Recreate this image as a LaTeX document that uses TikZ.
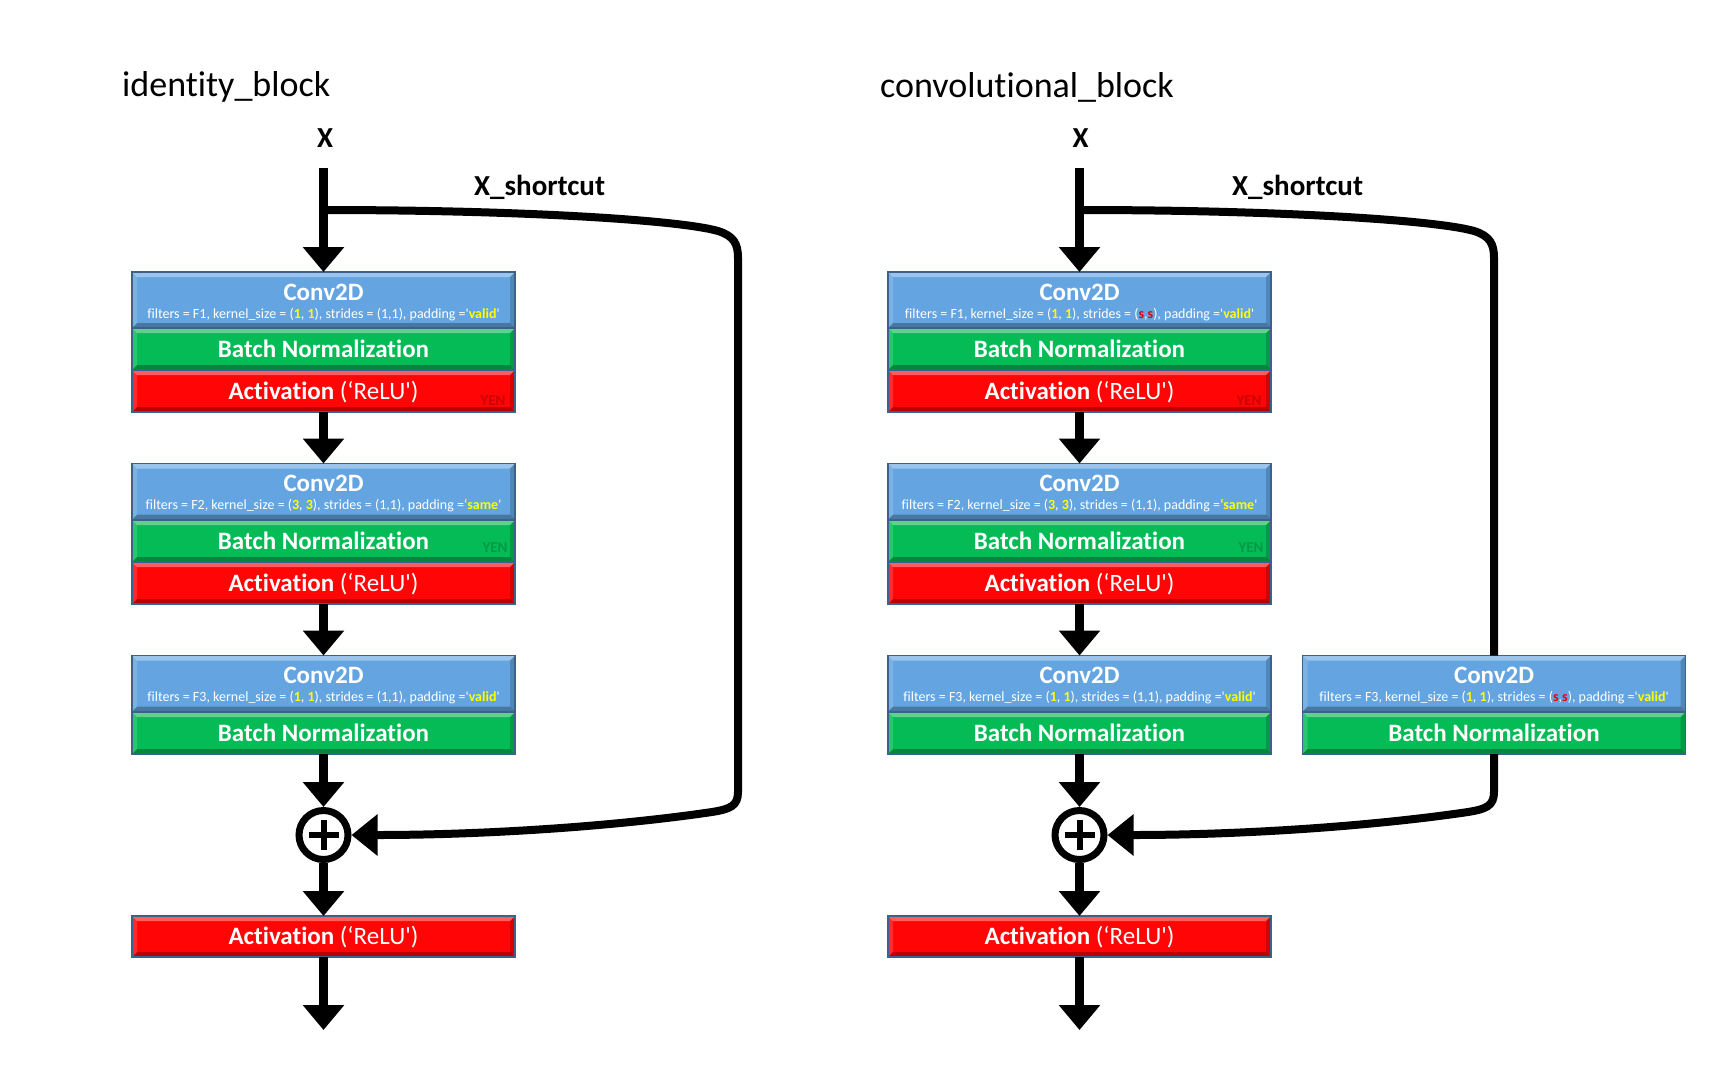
\documentclass[tikz,border=0pt]{standalone}
\usepackage{fontspec}
\setmainfont{Carlito}
\newfontfamily\calfont[Ligatures=NoCommon]{Carlito}
\usetikzlibrary{arrows.meta}
\definecolor{convblue}{RGB}{100,165,225}
\definecolor{bngreen}{RGB}{5,187,85}
\definecolor{actred}{RGB}{255,5,5}
\definecolor{edgeblue}{RGB}{62,96,140}
\definecolor{pyellow}{RGB}{255,255,0}
\definecolor{sred}{RGB}{230,0,0}
\newcommand\yv[1]{\textcolor{pyellow}{\bfseries #1}}
\newcommand\rs{\textcolor{sred}{\bfseries s}}
\tikzset{
  bevel/.style={path picture={
    \fill[white,opacity=.35] (path picture bounding box.north west) -- (path picture bounding box.north east)
      -- ([shift={(-5pt,-5pt)}]path picture bounding box.north east) -- ([shift={(5pt,-5pt)}]path picture bounding box.north west) -- cycle;
    \fill[black,opacity=.28] (path picture bounding box.south west) -- (path picture bounding box.south east)
      -- ([shift={(-5pt,5pt)}]path picture bounding box.south east) -- ([shift={(5pt,5pt)}]path picture bounding box.south west) -- cycle;
    \fill[white,opacity=.15] (path picture bounding box.north west) -- ([shift={(5pt,-5pt)}]path picture bounding box.north west)
      -- ([shift={(5pt,5pt)}]path picture bounding box.south west) -- (path picture bounding box.south west) -- cycle;
    \fill[black,opacity=.18] (path picture bounding box.north east) -- ([shift={(-5pt,-5pt)}]path picture bounding box.north east)
      -- ([shift={(-5pt,5pt)}]path picture bounding box.south east) -- (path picture bounding box.south east) -- cycle;
  }},
  layer/.style={draw=edgeblue, line width=1.5pt, minimum width=383pt, inner sep=0pt, outer sep=0pt, bevel,
    text=white, font=\calfont\fontsize{25}{25}\selectfont, text height=16pt, text depth=0pt},
  convbox/.style={layer, fill=convblue, minimum height=56pt},
  bnbox/.style={layer, fill=bngreen, minimum height=42pt},
  actbox/.style={layer, fill=actred, minimum height=42pt},
  ctitle/.style={anchor=base, text=white, inner sep=0pt, font=\calfont\bfseries\fontsize{25}{25}\selectfont},
  cparam/.style={anchor=base, text=white, inner sep=0pt, font=\calfont\fontsize{14}{14}\selectfont},
  wmred/.style={inner sep=0pt, text=actred!80!black, font=\calfont\bfseries\fontsize{15}{15}\selectfont},
  wmgreen/.style={inner sep=0pt, text=bngreen!82!black, font=\calfont\bfseries\fontsize{15}{15}\selectfont},
  btitle/.style={anchor=base west, inner sep=0pt, font=\calfont\fontsize{36}{36}\selectfont},
  xlabel/.style={anchor=base, inner sep=0pt, font=\calfont\bfseries\fontsize{29}{29}\selectfont},
  flow/.style={line width=8.5pt, -{Triangle[width=40pt,length=25pt]}},
  sline/.style={line width=8pt},
  sarrow/.style={line width=8pt, -{Triangle[width=40pt,length=26pt]}},
  plusnode/.style={circle, draw=black, fill=white, line width=7pt, minimum size=49pt, inner sep=0pt, outer sep=3.5pt},
  plusbar/.style={line width=6pt},
}
\begin{document}
\begin{tikzpicture}[x=1pt,y=-1pt]
\useasboundingbox[fill=white] (0,0) rectangle (1728,1080);

% ---------------- identity block ----------------
\node[btitle] (t1) at (122,96) {identity\_block};
\node[xlabel] (x1) at (325,147) {X};
\node[xlabel,anchor=base west] (s1) at (474,195) {X\_shortcut};
\coordinate (in1) at (323.5,168);
\coordinate (j1) at (323.5,210);

\node[convbox] (lc1) at (323.5,300) {};
\node[ctitle] (lc1t) at (323.5,300) {Conv2D};
\node[cparam] (lc1p) at (323.5,318) {filters = F1, kernel\_size = (\yv{1}, \yv{1}), strides = (1,1), padding ='\yv{valid}'};
\node[bnbox] (lb1) at (323.5,349) {\bfseries Batch Normalization};
\node[actbox] (la1) at (323.5,391) {\textbf{Activation} (‘ReLU')};
\node[wmred] (lw1) at (493,401) {YEN};

\node[convbox] (lc2) at (323.5,491.5) {};
\node[ctitle] (lc2t) at (323.5,491) {Conv2D};
\node[cparam] (lc2p) at (323.5,509.5) {filters = F2, kernel\_size = (\yv{3}, \yv{3}), strides = (1,1), padding =\yv{‘same}'};
\node[bnbox] (lb2) at (323.5,541) {\bfseries Batch Normalization};
\node[wmgreen] (lw2) at (495,548) {YEN};
\node[actbox] (la2) at (323.5,583) {\textbf{Activation} (‘ReLU')};

\node[convbox] (lc3) at (323.5,683.5) {};
\node[ctitle] (lc3t) at (323.5,683) {Conv2D};
\node[cparam] (lc3p) at (323.5,701.5) {filters = F3, kernel\_size = (\yv{1}, \yv{1}), strides = (1,1), padding ='\yv{valid}'};
\node[bnbox] (lb3) at (323.5,733) {\bfseries Batch Normalization};

\node[plusnode] (p1) at (323.5,835) {};
\draw[plusbar] ([xshift=-15pt]p1.center) -- ([xshift=15pt]p1.center);
\draw[plusbar] ([yshift=-15pt]p1.center) -- ([yshift=15pt]p1.center);

\node[actbox,minimum height=41pt] (la4) at (323.5,936.5) {\textbf{Activation} (‘ReLU')};
\coordinate (out1) at (323.5,1030);

\draw[flow] (in1) -- (lc1.north);
\draw[flow] (la1.south) -- (lc2.north);
\draw[flow] (la2.south) -- (lc3.north);
\draw[flow] (lb3.south) -- (p1.north);
\draw[flow] (p1.south) -- (la4.north);
\draw[flow] (la4.south) -- (out1);
\draw[sarrow] (j1) .. controls (520,210) and (680,220) .. (718,231)
  .. controls (734,236) and (738,244) .. (738,258) -- (738,792)
  .. controls (738,806) and (730,809) .. (712,812)
  .. controls (610,827) and (480,835) .. (p1.east);

% ---------------- convolutional block ----------------
\node[btitle] (t2) at (880,97) {convolutional\_block};
\node[xlabel] (x2) at (1080.5,147) {X};
\node[xlabel,anchor=base west] (s2) at (1232,195) {X\_shortcut};
\coordinate (in2) at (1079.5,168);
\coordinate (j2) at (1079.5,210);

\node[convbox] (rc1) at (1079.5,300) {};
\node[ctitle] (rc1t) at (1079.5,300) {Conv2D};
\node[cparam] (rc1p) at (1079.5,318) {filters = F1, kernel\_size = (\yv{1}, \yv{1}), strides = (\rs,\rs), padding ='\yv{valid}'};
\node[bnbox] (rb1) at (1079.5,349) {\bfseries Batch Normalization};
\node[actbox] (ra1) at (1079.5,391) {\textbf{Activation} (‘ReLU')};
\node[wmred] (rw1) at (1249,401) {YEN};

\node[convbox] (rc2) at (1079.5,491.5) {};
\node[ctitle] (rc2t) at (1079.5,491) {Conv2D};
\node[cparam] (rc2p) at (1079.5,509.5) {filters = F2, kernel\_size = (\yv{3}, \yv{3}), strides = (1,1), padding =\yv{‘same}'};
\node[bnbox] (rb2) at (1079.5,541) {\bfseries Batch Normalization};
\node[wmgreen] (rw2) at (1251,548) {YEN};
\node[actbox] (ra2) at (1079.5,583) {\textbf{Activation} (‘ReLU')};

\node[convbox] (rc3) at (1079.5,683.5) {};
\node[ctitle] (rc3t) at (1079.5,683) {Conv2D};
\node[cparam] (rc3p) at (1079.5,701.5) {filters = F3, kernel\_size = (\yv{1}, \yv{1}), strides = (1,1), padding ='\yv{valid}'};
\node[bnbox] (rb3) at (1079.5,733) {\bfseries Batch Normalization};

\node[convbox] (sc) at (1494,683.5) {};
\node[ctitle] (sct) at (1494,683) {Conv2D};
\node[cparam] (scp) at (1494,701.5) {filters = F3, kernel\_size = (\yv{1}, \yv{1}), strides = (\rs,\rs), padding ='\yv{valid}'};
\node[bnbox] (sb) at (1494,733) {\bfseries Batch Normalization};

\node[plusnode] (p2) at (1079.5,835) {};
\draw[plusbar] ([xshift=-15pt]p2.center) -- ([xshift=15pt]p2.center);
\draw[plusbar] ([yshift=-15pt]p2.center) -- ([yshift=15pt]p2.center);

\node[actbox,minimum height=41pt] (ra4) at (1079.5,936.5) {\textbf{Activation} (‘ReLU')};
\coordinate (out2) at (1079.5,1030);

\draw[flow] (in2) -- (rc1.north);
\draw[flow] (ra1.south) -- (rc2.north);
\draw[flow] (ra2.south) -- (rc3.north);
\draw[flow] (rb3.south) -- (p2.north);
\draw[flow] (p2.south) -- (ra4.north);
\draw[flow] (ra4.south) -- (out2);
\draw[sline] (j2) .. controls (1276,210) and (1436,220) .. (1474,231)
  .. controls (1490,236) and (1494,244) .. (1494,258) -- (sc.north);
\draw[sarrow] (sb.south) -- (1494,792)
  .. controls (1494,806) and (1486,809) .. (1468,812)
  .. controls (1366,827) and (1236,835) .. (p2.east);
\end{tikzpicture}
\end{document}
